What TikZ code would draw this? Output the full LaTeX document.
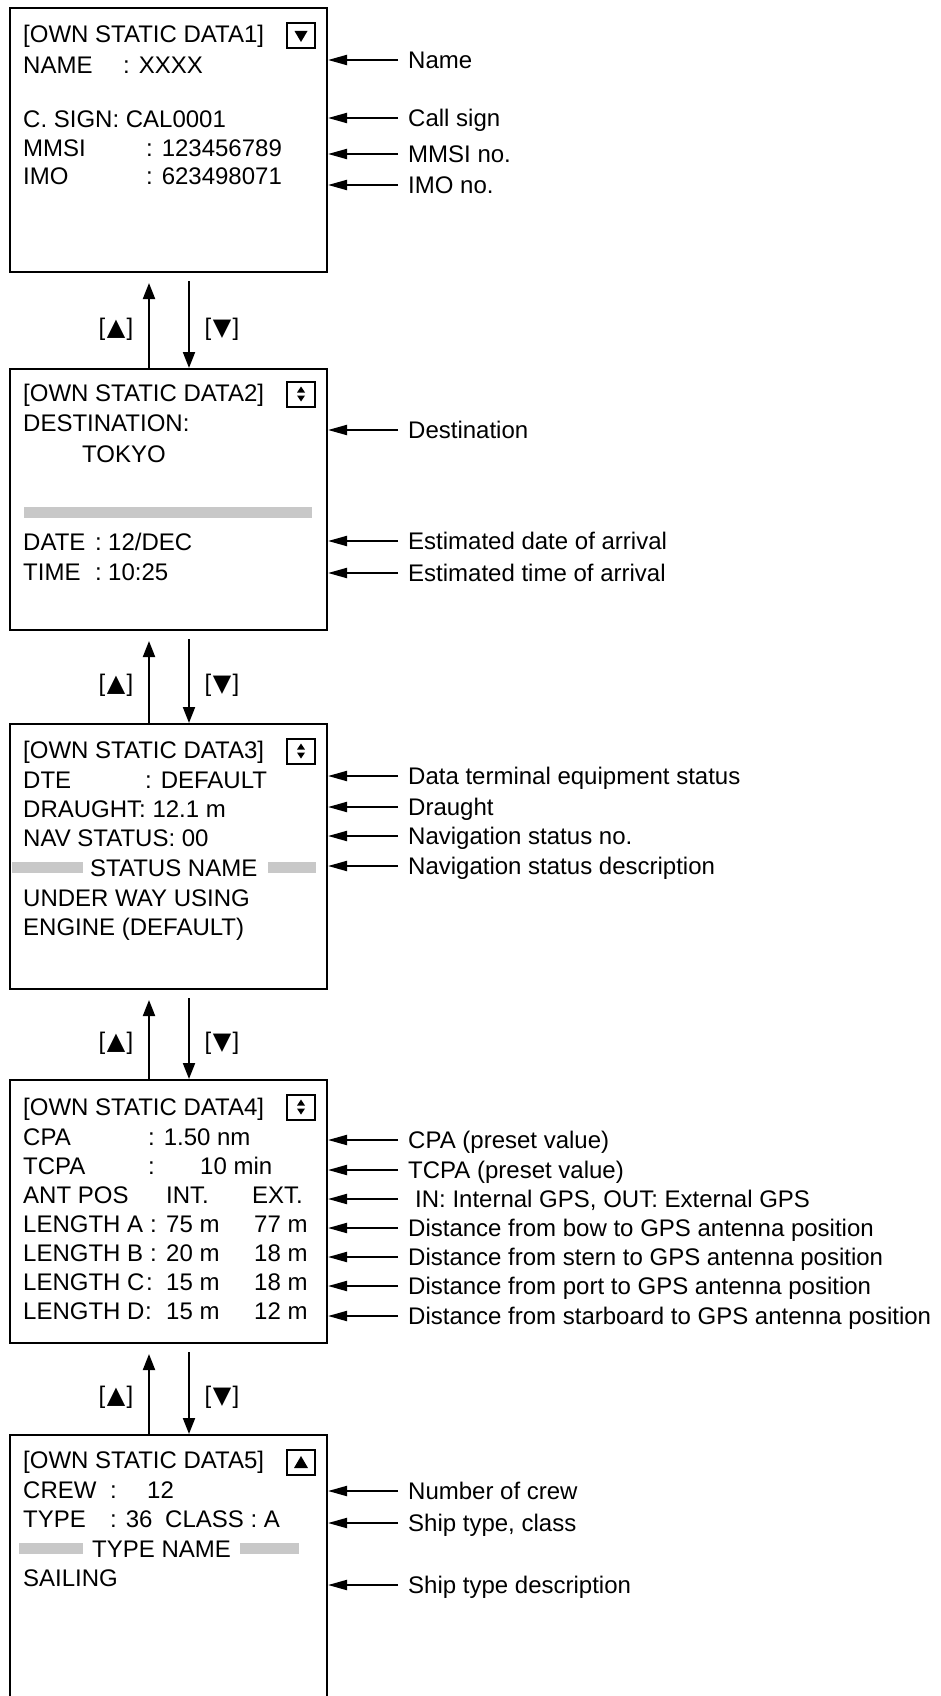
\documentclass[tikz,border=0pt]{standalone}
\usepackage{fontspec}
\setmainfont{Liberation Sans}
\newfontfamily\symfont{DejaVu Sans}
\usetikzlibrary{arrows.meta,calc}
\definecolor{barGray}{RGB}{200,200,200}
\begin{document}
\begin{tikzpicture}[x=1pt,y=-1pt,
  every node/.style={font=\fontsize{24}{28}\selectfont},
  screen/.style={draw, line width=2pt, anchor=north west, minimum width=317pt, inner sep=0pt},
  txt/.style={anchor=west, inner sep=0pt, text height=17.2pt, text depth=0pt},
  lbl/.style={anchor=center, inner sep=0pt, text height=17.2pt, text depth=0pt},
  annarrow/.style={line width=2pt, -{Triangle[length=19pt,width=10pt]}},
  navarrow/.style={line width=2pt, -{Triangle[length=16pt,width=12pt]}},
  graybar/.style={fill=barGray, draw=none},
  iconbox/.style={draw, line width=2pt, minimum width=28pt, minimum height=25pt, inner sep=0pt}]
\useasboundingbox (0,0) rectangle (941,1696);
\clip (0,0) rectangle (941,1696);

% ---------- screens ----------
\node[screen, minimum height=264pt] (b1) at (9,7) {};
\node[screen, minimum height=261pt] (b2) at (9,368) {};
\node[screen, minimum height=265pt] (b3) at (9,723) {};
\node[screen, minimum height=263pt] (b4) at (9,1079) {};
\node[screen, minimum height=300pt] (b5) at (9,1434) {};

% ---------- header icons ----------
\node[iconbox] (i1) at (301,36) {};
\fill ([xshift=-6.5pt,yshift=5pt]i1.center) -- ++(13,0) -- ++(-6.5,11) -- cycle;
\foreach \ic/\yy in {i2/394, i3/751, i4/1107} {
  \node[iconbox] (\ic) at (301,\yy) {};
  \fill ([xshift=-4pt,yshift=1.5pt]\ic.center) -- ++(8,0) -- ++(-4,-6) -- cycle;
  \fill ([xshift=-4pt,yshift=-1.5pt]\ic.center) -- ++(8,0) -- ++(-4,6) -- cycle;
}
\node[iconbox] (i5) at (301,1462) {};
\fill ([xshift=-7pt,yshift=-6pt]i5.center) -- ++(14,0) -- ++(-7,-12) -- cycle;

% ---------- screen 1 ----------
\node[txt] (h1) at (23,34) {[OWN STATIC DATA1]};
\node[txt] (s1a) at (23,65) {NAME};
\node[txt] (s1b) at (123,65) {: XXXX};
\node[txt] (s1c) at (23,119) {C. SIGN: CAL0001};
\node[txt] (s1d) at (23,148) {MMSI};
\node[txt] (s1e) at (146,148) {: 123456789};
\node[txt] (s1f) at (23,176) {IMO};
\node[txt] (s1g) at (146,176) {: 623498071};

% ---------- screen 2 ----------
\node[txt] (h2) at (23,393) {[OWN STATIC DATA2]};
\node[txt] (s2a) at (23,423) {DESTINATION:};
\node[txt] (s2b) at (82,454) {TOKYO};
\fill[graybar] (24,507) rectangle (312,518);
\node[txt] (s2c) at (23,542) {DATE};
\node[txt] (s2d) at (95,542) {:};
\node[txt] (s2e) at (108,542) {12/DEC};
\node[txt] (s2f) at (23,572) {TIME};
\node[txt] (s2g) at (95,572) {:};
\node[txt] (s2h) at (108,572) {10:25};

% ---------- screen 3 ----------
\node[txt] (h3) at (23,750) {[OWN STATIC DATA3]};
\node[txt] (s3a) at (23,780) {DTE};
\node[txt] (s3b) at (145,780) {: DEFAULT};
\node[txt] (s3c) at (23,809) {DRAUGHT: 12.1 m};
\node[txt] (s3d) at (23,838) {NAV STATUS: 00};
\fill[graybar] (12,862) rectangle (83,873);
\fill[graybar] (268,862) rectangle (316,873);
\node[txt] (s3e) at (90,868) {STATUS NAME};
\node[txt] (s3f) at (23,898) {UNDER WAY USING};
\node[txt] (s3g) at (23,927) {ENGINE (DEFAULT)};

% ---------- screen 4 ----------
\node[txt] (h4) at (23,1107) {[OWN STATIC DATA4]};
\node[txt] (s4a) at (23,1137) {CPA};
\node[txt] (s4b) at (148,1137) {: 1.50 nm};
\node[txt] (s4c) at (23,1166) {TCPA};
\node[txt] (s4d) at (148,1166) {:};
\node[txt] (s4e) at (200,1166) {10 min};
\node[txt] (s4f) at (23,1195) {ANT POS};
\node[txt] (s4g) at (166,1195) {INT.};
\node[txt] (s4h) at (252,1195) {EXT.};
\foreach \n/\lab/\cx/\va/\vb/\yy in {a/A/150/75/77/1224, b/B/150/20/18/1253, c/C/146/15/18/1282, d/D/145/15/12/1311} {
  \node[txt] (l\n1) at (23,\yy) {LENGTH \lab};
  \node[txt] (l\n2) at (\cx,\yy) {:};
  \node[txt] (l\n3) at (166,\yy) {\va\ m};
  \node[txt] (l\n4) at (254,\yy) {\vb\ m};
}

% ---------- screen 5 ----------
\node[txt] (h5) at (23,1460) {[OWN STATIC DATA5]};
\node[txt] (s5a) at (23,1490) {CREW};
\node[txt] (s5b) at (110,1490) {:};
\node[txt] (s5c) at (147,1490) {12};
\node[txt] (s5d) at (23,1519) {TYPE};
\node[txt] (s5e) at (110,1519) {: 36};
\node[txt] (s5f) at (165,1519) {CLASS : A};
\fill[graybar] (19,1543) rectangle (83,1554);
\fill[graybar] (240,1543) rectangle (299,1554);
\node[txt] (s5g) at (92,1549) {TYPE NAME};
\node[txt] (s5h) at (23,1578) {SAILING};

% ---------- annotations ----------
\foreach \nm/\bx/\yy/\xx/\tx in {
  a1/b1/60/408/{Name}, a2/b1/118/408/{Call sign}, a3/b1/154/408/{MMSI no.}, a4/b1/185/408/{IMO no.},
  a5/b2/430/408/{Destination}, a6/b2/541/408/{Estimated date of arrival}, a7/b2/573/408/{Estimated time of arrival},
  a8/b3/776/408/{Data terminal equipment status}, a9/b3/807/408/{Draught}, a10/b3/836/408/{Navigation status no.}, a11/b3/866/408/{Navigation status description},
  a12/b4/1140/408/{CPA (preset value)}, a13/b4/1170/408/{TCPA (preset value)}, a14/b4/1199/415/{IN: Internal GPS, OUT: External GPS},
  a15/b4/1228/408/{Distance from bow to GPS antenna position}, a16/b4/1257/408/{Distance from stern to GPS antenna position},
  a17/b4/1286/408/{Distance from port to GPS antenna position}, a18/b4/1316/408/{Distance from starboard to GPS antenna position},
  a19/b5/1491/408/{Number of crew}, a20/b5/1523/408/{Ship type, class}, a21/b5/1585/408/{Ship type description}} {
  \node[txt] (\nm) at (\xx,\yy) {\tx};
  \coordinate (\nm s) at (398,\yy);
  \draw[annarrow] (\nm s) -- (\nm s -| \bx.east);
}

% ---------- navigation arrows ----------
\foreach \up/\dn in {b1/b2, b2/b3, b3/b4, b4/b5} {
  \draw[navarrow] ([xshift=140pt]\dn.north west) -- ([xshift=140pt,yshift=-10pt]\up.south west);
  \draw[navarrow] ([xshift=180pt,yshift=-8pt]\up.south west) -- ([xshift=180pt]\dn.north west);
  \node[lbl] (u\up) at ($(\up.south west)!0.5!(\dn.north west)+(107,6)$) {[\hspace{1.5pt}{\symfont ▲}\hspace{1.5pt}]};
  \node[lbl] (d\up) at ($(\up.south west)!0.5!(\dn.north west)+(213,6)$) {[\hspace{1.5pt}{\symfont ▼}\hspace{1.5pt}]};
}
\end{tikzpicture}
\end{document}
